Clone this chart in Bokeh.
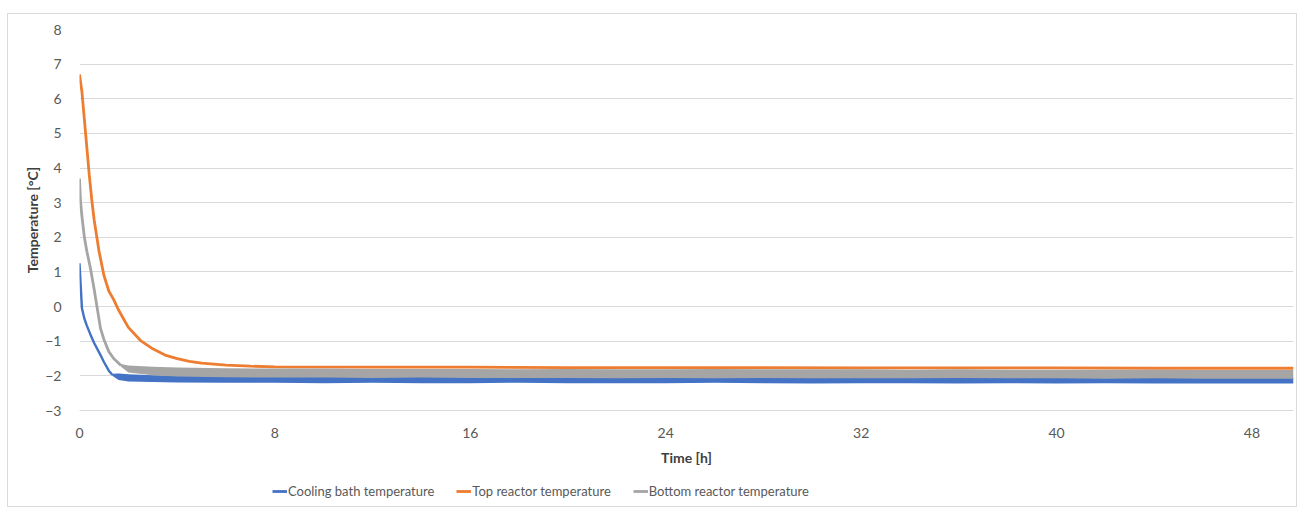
from bokeh.plotting import figure
from bokeh.models import Legend, LegendItem, FixedTicker, Range1d
from bokeh.layouts import column
from bokeh.embed import file_html
from bokeh.resources import INLINE

# ---------------- data ----------------
# initial cool-down (time in h, temperature in °C)
t_decay_top = [0.0, 0.1, 0.2, 0.3, 0.4, 0.5, 0.6, 0.8, 1.0, 1.2, 1.4, 1.6, 1.8, 2.0,
               2.5, 3.0, 3.5, 4.0, 4.5, 5.0, 6.0, 7.0, 8.0, 12.0, 16.0, 20.0, 24.0,
               28.0, 32.0, 36.0, 40.0, 44.0, 48.0, 49.7]
top_temp = [6.7, 6.2, 5.4, 4.6, 3.8, 3.1, 2.5, 1.6, 0.9, 0.45, 0.2, -0.1, -0.35, -0.6,
            -0.98, -1.22, -1.4, -1.5, -1.58, -1.63, -1.69, -1.72, -1.74, -1.75, -1.75,
            -1.76, -1.76, -1.76, -1.77, -1.77, -1.77, -1.78, -1.78, -1.78]

t_decay_bottom = [0.0, 0.04, 0.1, 0.2, 0.3, 0.45, 0.6, 0.86, 1.0, 1.2, 1.4, 1.7]
bottom_decay = [3.7, 3.05, 2.6, 2.0, 1.6, 1.1, 0.5, -0.63, -0.95, -1.3, -1.5, -1.7]

t_decay_bath = [0.0, 0.1, 0.2, 0.3, 0.45, 0.6, 0.86, 1.0, 1.2, 1.34]
bath_decay = [1.25, -0.05, -0.35, -0.55, -0.81, -1.05, -1.4, -1.6, -1.85, -1.97]

# steady state (noise envelope of each series)
t_band_bottom = [1.7, 2.0, 3.0, 4.0, 6.0, 8.0, 10.0, 12.0, 14.0, 16.0, 18.0, 20.0, 22.0,
                 24.0, 26.0, 28.0, 30.0, 32.0, 34.0, 36.0, 38.0, 40.0, 42.0, 44.0, 46.0,
                 48.0, 49.7]
bottom_hi = [-1.66, -1.70, -1.74, -1.76, -1.78, -1.79, -1.79, -1.80, -1.80, -1.80, -1.81,
             -1.80, -1.81, -1.81, -1.80, -1.81, -1.81, -1.81, -1.82, -1.81, -1.82, -1.82,
             -1.82, -1.82, -1.83, -1.83, -1.83]
bottom_lo = [-1.74, -1.90, -1.98, -2.02, -2.04, -2.05, -2.05, -2.06, -2.05, -2.06, -2.06,
             -2.06, -2.07, -2.06, -2.07, -2.06, -2.07, -2.07, -2.07, -2.06, -2.07, -2.07,
             -2.08, -2.07, -2.08, -2.08, -2.08]
t_band_bath = [1.34, 1.6, 2.0, 3.0, 4.0, 6.0, 8.0, 10.0, 12.0, 14.0, 16.0, 18.0, 20.0,
               22.0, 24.0, 26.0, 28.0, 30.0, 32.0, 34.0, 36.0, 38.0, 40.0, 42.0, 44.0,
               46.0, 48.0, 49.7]
bath_hi = [-1.94, -1.93, -1.95, -1.98, -2.00, -2.02, -2.02, -2.03, -2.03, -2.02, -2.04,
           -2.03, -2.03, -2.04, -2.03, -2.02, -2.04, -2.04, -2.03, -2.04, -2.04, -2.03,
           -2.04, -2.03, -2.03, -2.04, -2.04, -2.04]
bath_lo = [-2.00, -2.12, -2.16, -2.18, -2.19, -2.20, -2.20, -2.21, -2.20, -2.21, -2.21,
           -2.20, -2.21, -2.21, -2.21, -2.20, -2.21, -2.22, -2.21, -2.21, -2.22, -2.21,
           -2.22, -2.21, -2.22, -2.22, -2.22, -2.22]

x_ticks = [0, 8, 16, 24, 32, 40, 48]
y_ticks = [-3, -2, -1, 0, 1, 2, 3, 4, 5, 6, 7, 8]

series_names = ["Cooling bath temperature", "Top reactor temperature", "Bottom reactor temperature"]
series_colors = ["#4472C4", "#ED7D31", "#A5A5A5"]
BLUE, ORANGE, GRAY = series_colors
FONT = "Lato"
TXT = "#595959"

# ---------------- main figure ----------------
p = figure(frame_width=1214, frame_height=381, output_backend="svg", toolbar_location=None,
           x_range=Range1d(0, 49.7), y_range=Range1d(-3, 8),
           min_border_left=71, min_border_right=3, min_border_top=15, min_border_bottom=62)
p.outline_line_color = None

p.xgrid.grid_line_color = None
p.ygrid.grid_line_color = "#d9d9d9"
p.ygrid.ticker = FixedTicker(ticks=y_ticks)

p.xaxis.ticker = FixedTicker(ticks=x_ticks)
p.yaxis.ticker = FixedTicker(ticks=y_ticks)
for ax in (p.xaxis[0], p.yaxis[0]):
    ax.major_tick_line_color = None
    ax.minor_tick_line_color = None
    ax.major_label_text_font = FONT
    ax.major_label_text_font_size = "14px"
    ax.major_label_text_color = TXT
    ax.axis_label_text_font = FONT
    ax.axis_label_text_font_size = "14px"
    ax.axis_label_text_font_style = "bold"
    ax.axis_label_text_color = "#404040"
p.yaxis.axis_line_color = None
p.xaxis.axis_line_color = "#d9d9d9"
p.xaxis.axis_label = "Time [h]"
p.yaxis.axis_label = "Temperature [°C]"
p.yaxis.major_label_standoff = 12
p.yaxis.axis_label_standoff = 1
p.xaxis.major_label_standoff = 11
p.xaxis.axis_label_standoff = 8

# bath
p.varea(x=t_band_bath, y1=bath_lo, y2=bath_hi, fill_color=BLUE)
p.line(t_decay_bath, bath_decay, line_color=BLUE, line_width=2.4)
# top
p.line(t_decay_top, top_temp, line_color=ORANGE, line_width=2.8)
# bottom
p.varea(x=t_band_bottom, y1=bottom_lo, y2=bottom_hi, fill_color=GRAY)
p.line(t_decay_bottom, bottom_decay, line_color=GRAY, line_width=2.8)

# ---------------- legend strip (series drawn out of view, legend only) ----------------
lg = figure(width=1288, height=34, output_backend="svg", toolbar_location=None,
            x_range=Range1d(0, 49.7), y_range=Range1d(100, 101),
            min_border=0, x_axis_type=None, y_axis_type=None)
lg.outline_line_color = None
lg.xgrid.grid_line_color = None
lg.ygrid.grid_line_color = None
legend_sources = [(t_decay_bath, bath_decay), (t_decay_top, top_temp), (t_decay_bottom, bottom_decay)]
items = []
for name, col, (xs, ys) in zip(series_names, series_colors, legend_sources):
    r = lg.line(xs, ys, line_color=col, line_width=2.8)
    items.append(LegendItem(label=name, renderers=[r]))
legend = Legend(items=items, orientation="horizontal", location=(193, 7),
                label_text_font=FONT, label_text_font_size="13px", label_text_color=TXT,
                glyph_width=15, glyph_height=14, label_standoff=1, spacing=22,
                padding=10, margin=0, border_line_color=None, background_fill_alpha=0)
lg.add_layout(legend, "center")

layout = column(p, lg, spacing=0,
                styles={"border": "1px solid #d9d9d9", "margin-left": "7px", "margin-top": "13px"})

open("out.html", "w").write(file_html(layout, INLINE))
